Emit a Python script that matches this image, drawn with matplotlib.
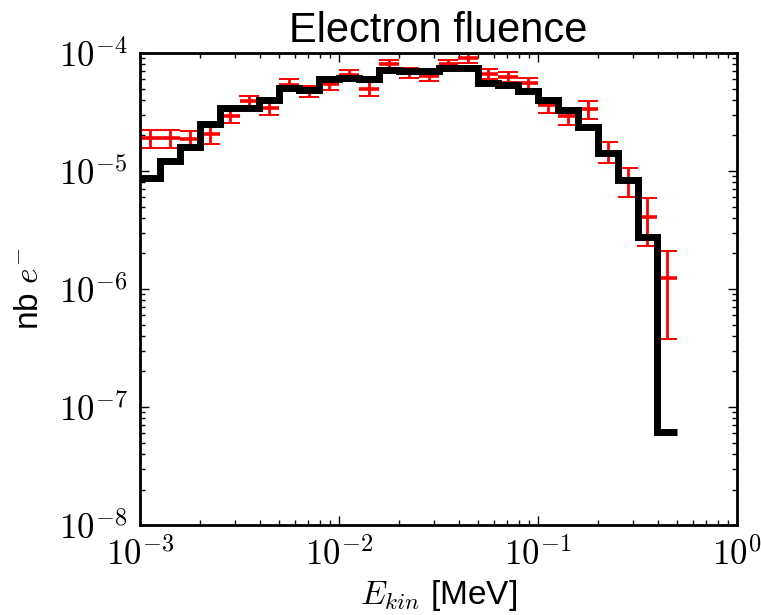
import numpy as np
import matplotlib
matplotlib.use("Agg")
import matplotlib.pyplot as plt
from matplotlib.ticker import LogLocator, FuncFormatter, NullFormatter

plt.rcParams['font.family'] = ['Liberation Sans', 'DejaVu Sans']
plt.rcParams['mathtext.fontset'] = 'cm'

# bin edges: 10 log bins per decade from 1e-3 to ~0.5 MeV
bin_edges = [10 ** (-3 + 0.1 * k) for k in range(28)]

# simulated fluence (black step line)
sim_values = [8.7e-6, 1.22e-5, 1.6e-5, 2.5e-5, 3.4e-5, 3.4e-5, 4.0e-5, 5.05e-5, 4.9e-5,
              6.0e-5, 6.1e-5, 6.0e-5, 7.2e-5, 7.1e-5, 7.1e-5, 7.4e-5, 7.4e-5, 5.6e-5,
              5.4e-5, 4.72e-5, 4.0e-5, 3.26e-5, 2.36e-5, 1.42e-5, 8.4e-6, 2.75e-6, 6.2e-8]

# reference fluence (red points with error bars)
ref_values = [1.9e-5, 1.9e-5, 1.85e-5, 2.05e-5, 2.95e-5, 3.9e-5, 3.45e-5, 5.4e-5, 4.75e-5,
              5.45e-5, 6.5e-5, 5.0e-5, 8.1e-5, 6.85e-5, 6.4e-5, 8.1e-5, 9.0e-5, 6.7e-5,
              6.25e-5, 5.55e-5, 3.6e-5, 2.9e-5, 3.35e-5, 1.46e-5, 8.3e-6, 4.1e-6, 1.25e-6]
ref_errors = [3.2e-6, 3.2e-6, 3.3e-6, 3.5e-6, 4.2e-6, 4.0e-6, 4.8e-6, 5.8e-6, 5.4e-6,
              5.8e-6, 6.4e-6, 7.0e-6, 7.0e-6, 6.6e-6, 6.3e-6, 7.1e-6, 7.5e-6, 6.5e-6,
              6.2e-6, 5.9e-6, 4.7e-6, 4.3e-6, 6.0e-6, 3.0e-6, 2.3e-6, 1.8e-6, 8.7e-7]

edges = np.array(bin_edges)
centers = np.sqrt(edges[:-1] * edges[1:])
xlo = centers - edges[:-1]
xhi = edges[1:] - centers

fig = plt.figure(figsize=(7.61, 6.15), dpi=100)
ax = fig.add_axes([0.184, 0.1463, 0.7845, 0.7675])

# red reference points
ax.errorbar(centers, ref_values, xerr=[xlo, xhi], fmt='none', ecolor='#ff0000',
            elinewidth=2.6, capsize=0, zorder=2)
ax.errorbar(centers, ref_values, yerr=ref_errors, fmt='none', ecolor='#ff0000',
            elinewidth=2.0, capsize=7.5, capthick=1.4, zorder=2)

# black simulation histogram
ax.stairs(sim_values, edges, baseline=None, color='black', linewidth=5.0, zorder=3)

ax.set_xscale('log')
ax.set_yscale('log')
ax.set_xlim(1e-3, 1.0)
ax.set_ylim(1e-8, 1e-4)

fmt = FuncFormatter(lambda v, p: r'$10^{%d}$' % int(round(np.log10(v))))
ax.xaxis.set_major_locator(LogLocator(base=10, numticks=10))
ax.yaxis.set_major_locator(LogLocator(base=10, numticks=10))
ax.xaxis.set_minor_locator(LogLocator(base=10, subs=np.arange(2, 10), numticks=20))
ax.yaxis.set_minor_locator(LogLocator(base=10, subs=np.arange(2, 10), numticks=20))
ax.xaxis.set_major_formatter(fmt)
ax.yaxis.set_major_formatter(fmt)
ax.xaxis.set_minor_formatter(NullFormatter())
ax.yaxis.set_minor_formatter(NullFormatter())

ax.tick_params(which='both', direction='in', top=True, right=True, width=1.0)
ax.tick_params(which='major', length=6.5, labelsize=25)
ax.tick_params(which='minor', length=3.5)
ax.tick_params(axis='y', which='major', pad=9)
ax.tick_params(axis='x', which='major', pad=9)

for s in ax.spines.values():
    s.set_linewidth(2.0)

ax.set_title('Electron fluence', fontsize=30, pad=8)
ax.set_xlabel(r'$E_{kin}$ [MeV]', fontsize=24, labelpad=4)
ax.set_ylabel(r'nb $e^{-}$', fontsize=24, labelpad=10)

fig.savefig('out.png', dpi=100)
